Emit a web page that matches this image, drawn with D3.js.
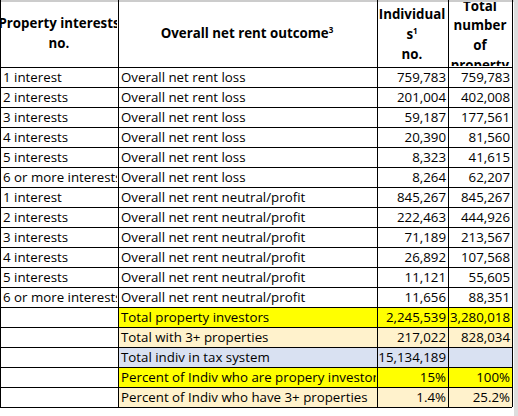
<!DOCTYPE html><html><head><meta charset="utf-8">
<script src="https://cdn.jsdelivr.net/npm/d3@7"></script>
<style>body{margin:0;background:#fff}text{font-family:"Open Sans",sans-serif;font-size:13.3px;fill:#000}</style></head><body>
<script>
const interests=["1 interest","2 interests","3 interests","4 interests","5 interests","6 or more interests","1 interest","2 interests","3 interests","4 interests","5 interests","6 or more interests","","","","",""];
const outcomes=["Overall net rent loss","Overall net rent loss","Overall net rent loss","Overall net rent loss","Overall net rent loss","Overall net rent loss","Overall net rent neutral/profit","Overall net rent neutral/profit","Overall net rent neutral/profit","Overall net rent neutral/profit","Overall net rent neutral/profit","Overall net rent neutral/profit","Total property investors","Total with 3+ properties","Total indiv in tax system","Percent of Indiv who are propery investors","Percent of Indiv who have 3+ properties"];
const individuals=["759,783","201,004","59,187","20,390","8,323","8,264","845,267","222,463","71,189","26,892","11,121","11,656","2,245,539","217,022","15,134,189","15%","1.4%"];
const totals=["759,783","402,008","177,561","81,560","41,615","62,207","845,267","444,926","213,567","107,568","55,605","88,351","3,280,018","828,034","","100%","25.2%"];
const rowFills=[null,null,null,null,null,null,null,null,null,null,null,null,"#FFFF00","#FFF2CC","#D9E1F2","#FFFF00","#FFF2CC"];
const colEdges=[0,118,377,448,512];
const svg=d3.select("body").append("svg").attr("width",518).attr("height",416);
svg.append("rect").attr("width",518).attr("height",2).attr("fill","#ccc");
svg.append("rect").attr("x",514).attr("width",4).attr("height",416).attr("fill","#ddd");
const y=d3.scaleBand().domain(d3.range(17)).range([67,407]);
const defs=svg.append("defs");
colEdges.slice(0,4).forEach((x0,i)=>{
 defs.append("clipPath").attr("id","c"+i).append("rect").attr("x",x0+1).attr("y",0).attr("width",colEdges[i+1]-x0-2).attr("height",416);
 defs.append("clipPath").attr("id","h"+i).append("rect").attr("x",x0+1).attr("y",2).attr("width",colEdges[i+1]-x0-2).attr("height",64);});
const rows=svg.selectAll("g.r").data(d3.range(17)).join("g").attr("transform",i=>`translate(0,${y(i)})`);
rows.each(function(i){const g=d3.select(this);
 if(rowFills[i]) g.append("rect").attr("x",118).attr("width",394).attr("height",y.bandwidth()).attr("fill",rowFills[i]);
});
const txt=svg.append("g");
d3.range(17).forEach(i=>{const ty=y(i)+15;
 txt.append("text").attr("clip-path","url(#c0)").attr("x",3).attr("y",ty).text(interests[i]);
 txt.append("text").attr("clip-path","url(#c1)").attr("x",121).attr("y",ty).text(outcomes[i]);
 txt.append("text").attr("x",446).attr("y",ty).attr("text-anchor","end").text(individuals[i]);
 txt.append("text").attr("x",510).attr("y",ty).attr("text-anchor","end").text(totals[i]);
});
const hdr=svg.append("g");
const H=[[59,["Property interests","no."],[28,48]],[247,["Overall net rent outcome"],[38]],[412,["Individual","s","no."],[19,39,59]],[480,["Total","number","of","property"],[11,30,50,70]]];
H.forEach(([cx,lines,ys],k)=>{lines.forEach((t,j)=>{const tx=hdr.append("text").attr("clip-path","url(#h"+k+")").attr("x",cx).attr("y",ys[j]).attr("text-anchor","middle").style("font-weight","bold").text(t);
 if(k===1) tx.append("tspan").attr("dy",-5).style("font-size","8px").text("3");
 if(k===2&&j===1) tx.append("tspan").attr("dy",-5).style("font-size","8px").text("1");});});
const lines=svg.append("g").attr("stroke","#000").attr("stroke-width",1);
d3.range(18).forEach(i=>{const yy=Math.round(y(0)+i*y.bandwidth())+0.5;lines.append("line").attr("x1",0).attr("x2",512).attr("y1",yy).attr("y2",yy);});
colEdges.forEach(x=>{lines.append("line").attr("x1",x+0.5).attr("x2",x+0.5).attr("y1",0).attr("y2",407);});
</script></body></html>
